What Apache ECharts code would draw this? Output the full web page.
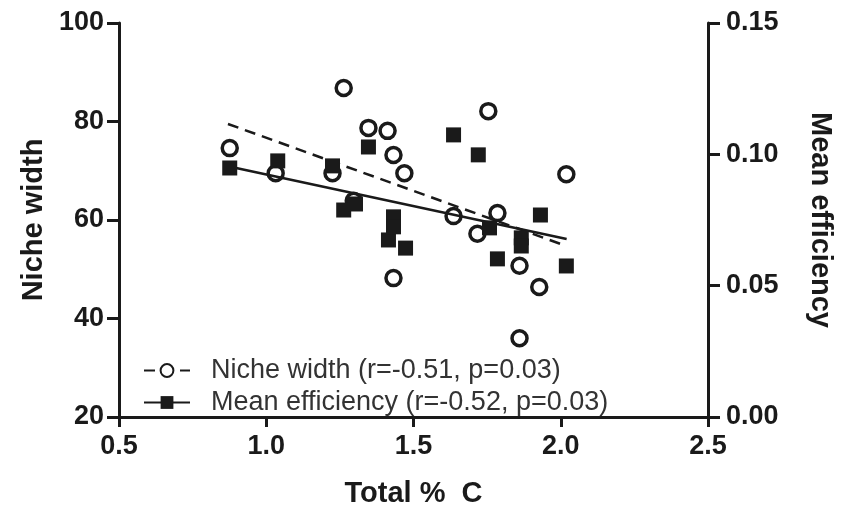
<!DOCTYPE html>
<html>
<head>
<meta charset="utf-8">
<script src="https://cdn.jsdelivr.net/npm/echarts@6/dist/echarts.min.js"></script>
<style>
  html, body { margin: 0; padding: 0; background: #fff; }
  #main { width: 842px; height: 506px; }
</style>
</head>
<body>
<div id="main"></div>
<script>
// Niche width (left axis), open circles
const nicheX = [0.876, 1.032, 1.225, 1.263, 1.297, 1.347, 1.412, 1.432, 1.432, 1.469, 1.636, 1.717, 1.754, 1.785, 1.86, 1.86, 1.927, 2.019];
const nicheY = [74.6, 69.5, 69.5, 86.8, 63.9, 78.7, 78.1, 73.2, 48.2, 69.5, 60.8, 57.2, 82.1, 61.4, 50.7, 36.0, 46.4, 69.3];
// Mean efficiency (right axis), filled squares
const effX = [0.876, 1.039, 1.225, 1.263, 1.303, 1.347, 1.415, 1.432, 1.432, 1.473, 1.636, 1.720, 1.758, 1.785, 1.866, 1.866, 1.931, 2.019];
const effY = [0.0948, 0.0975, 0.0956, 0.0788, 0.0811, 0.1028, 0.0674, 0.0762, 0.0724, 0.0643, 0.1074, 0.0998, 0.0720, 0.0602, 0.0682, 0.0651, 0.0769, 0.0575];
// regression lines (end points)
const nicheFit = [[0.87, 79.5], [2.02, 54.7]];
const effFit = [[0.87, 0.0955], [2.02, 0.0678]];
const leftTicks = [20, 100, 20];
const rightTicks = [0, 0.15, 0.05];
const xTicks = [0.5, 2.5, 0.5];

const nicheName = 'Niche width (r=-0.51, p=0.03)';
const effName = 'Mean efficiency (r=-0.52, p=0.03)';
const font = 'Liberation Sans, Arial, sans-serif';
const ink = '#1a1a1a';

const axisCommon = {
  axisLine: { show: true, lineStyle: { color: ink, width: 3 } },
  axisTick: { show: true, length: 12, lineStyle: { color: ink, width: 3 } },
  splitLine: { show: false },
  axisLabel: { color: ink, fontFamily: font, fontWeight: 'bold', fontSize: 27 },
  nameTextStyle: { color: ink, fontFamily: font, fontWeight: 'bold', fontSize: 29 }
};

const chart = echarts.init(document.getElementById('main'));
chart.setOption({
  animation: false,
  backgroundColor: '#fff',
  grid: { left: 119, right: 134, top: 23, bottom: 89, containLabel: false, outerBoundsMode: 'none' },
  legend: {
    left: 138, top: 352, orient: 'vertical', itemGap: 5,
    itemWidth: 46, itemHeight: 16,
    data: [nicheName, effName],
    textStyle: { color: '#333', fontFamily: font, fontSize: 27, padding: [0, 0, 0, 16] }
  },
  xAxis: Object.assign({}, axisCommon, {
    type: 'value', min: xTicks[0], max: xTicks[1], interval: xTicks[2],
    name: 'Total %  C', nameLocation: 'middle', nameGap: 62,
    axisTick: Object.assign({}, axisCommon.axisTick, { length: 10 }),
    axisLabel: Object.assign({}, axisCommon.axisLabel, { margin: 16, formatter: v => v.toFixed(1) })
  }),
  yAxis: [
    Object.assign({}, axisCommon, {
      type: 'value', min: leftTicks[0], max: leftTicks[1], interval: leftTicks[2],
      position: 'left', name: 'Niche width', nameLocation: 'middle', nameGap: 70,
      axisLabel: Object.assign({}, axisCommon.axisLabel, { margin: 15 })
    }),
    Object.assign({}, axisCommon, {
      type: 'value', min: rightTicks[0], max: rightTicks[1], interval: rightTicks[2],
      position: 'right', name: 'Mean efficiency', nameLocation: 'middle', nameGap: 97, nameRotate: -90,
      axisLabel: Object.assign({}, axisCommon.axisLabel, { margin: 18, formatter: v => v.toFixed(2) })
    })
  ],
  series: [
    {
      name: nicheName, type: 'line', yAxisIndex: 0,
      data: nicheFit, symbol: 'emptyCircle', symbolSize: 15, showSymbol: false,
      itemStyle: { color: ink, borderWidth: 3.5 },
      lineStyle: { color: ink, width: 2.5, type: [11, 7] }, z: 3
    },
    {
      name: effName, type: 'line', yAxisIndex: 1,
      data: effFit, symbol: 'rect', symbolSize: 15, showSymbol: false,
      itemStyle: { color: ink },
      lineStyle: { color: ink, width: 2.5 }, z: 3
    },
    {
      name: 'niche', type: 'scatter', yAxisIndex: 0,
      data: nicheX.map((x, i) => [x, nicheY[i]]),
      symbol: 'circle', symbolSize: 15,
      itemStyle: { color: 'rgba(255,255,255,0)', borderColor: ink, borderWidth: 3.5, opacity: 1 }, z: 4
    },
    {
      name: 'eff', type: 'scatter', yAxisIndex: 1,
      data: effX.map((x, i) => [x, effY[i]]),
      symbol: 'rect', symbolSize: 15,
      itemStyle: { color: ink, opacity: 1 }, z: 4
    }
  ]
});
</script>
</body>
</html>
